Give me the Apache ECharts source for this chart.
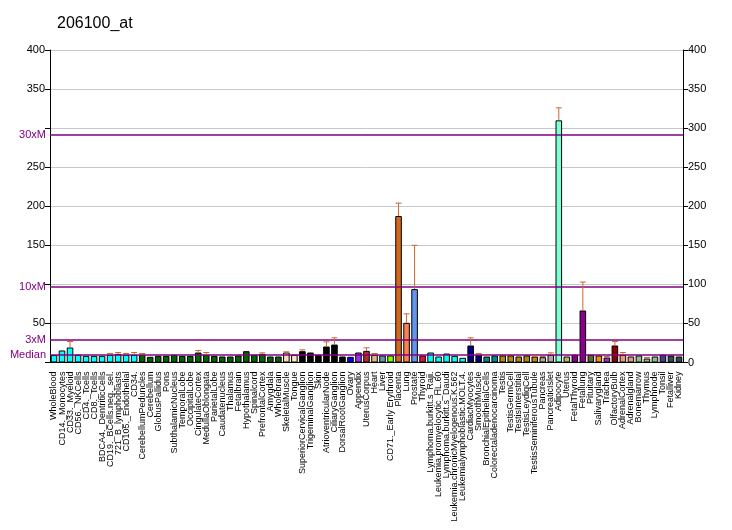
<!DOCTYPE html>
<html><head><meta charset="utf-8">
<script src="https://cdn.jsdelivr.net/npm/echarts@6/dist/echarts.min.js"></script>
<style>html,body{margin:0;padding:0;background:#fff}#c{width:732px;height:530px}</style>
</head><body><div id="c"></div>
<script>
var title = "206100_at";
var categories = ["WholeBlood","CD14._Monocytes","CD33._Myeloid","CD56._NKCells","CD4._Tcells","CD8._Tcells","BDCA4._DentriticCells","CD19._BCells.neg._sel.","721_B_lymphoblasts","CD105._Endothelial","CD34.","CerebellumPeduncles","Cerebellum","GlobusPallidus","Pons","SubthalamicNucleus","TemporalLobe","OccipitalLobe","CingulateCortex","MedullaOblongata","ParietalLobe","Caudatenucleus","Thalamus","Fetalbrain","Hypothalamus","Spinalcord","PrefrontalCortex","Amygdala","Wholebrain","SkeletalMuscle","Tongue","SuperiorCervicalGanglion","TrigeminalGanglion","Skin","AtrioventricularNode","CiliaryGanglion","DorsalRootGanglion","Ovary","Appendix","UterusCorpus","Heart","Liver","CD71._Early Erythroid","Placenta","Lung","Prostate","Thyroid","Lymphoma.burkitt.s_Raji.","Leukemia.promyelocytic_HL.60","Lymphoma.burkitt.s_Daudi","Leukemia.chronicMyelogenous.K.562","Leukemialymphoblastic.MOLT.4.","CardiacMyocytes","SmoothMuscle","BronchialEpithelialCells","Colorectaladenocarcinoma","Testis","TestisGermCell","TestisInterstitial","TestisLeydigCell","TestisSeminiferousTubule","Pancreas","PancreaticIslet","Adipocyte","Uterus","FetalThyroid","Fetallung","Pituitary","Salivarygland","Trachea","OlfactoryBulb","AdrenalCortex","Adrenalgland","Bonemarrow","Thymus","Lymphnode","Tonsil","Fetalliver","Kidney"];
var values = [9.5,15.4,19.2,9.8,8.5,8.5,8.5,9.8,11,9.8,9.8,9.8,7.3,8.5,8.5,9.8,8.5,8.5,12.8,9.8,8.5,7.7,7.7,9,14.5,9.8,11,7.7,7.7,12.8,9.8,14.5,12.8,9.8,20.5,23,7.7,7.3,12.8,14.9,9.8,9,9,187.5,50.8,94,9,12.8,7.7,11.5,8.5,6,21.8,9.8,7.7,9,9,9,7.7,9,7.7,6.8,9.8,310,7.7,9.8,66.6,9.8,9,6.4,21.8,9.8,7.7,9,5.1,7.7,9.8,9,7.7];
var errorTops = [null,null,26.9,null,null,null,null,11.5,12.8,11.5,12.8,11.5,null,null,null,null,null,null,15.4,12.8,null,null,null,null,null,null,12.4,null,null,13.7,null,16.2,null,null,26.5,31.6,null,null,null,18.8,11.5,null,null,204,62.3,150,null,null,null,null,null,null,31.6,11.5,8.5,null,null,null,null,null,8.5,7.7,12.4,326,null,null,103,null,null,7.7,26.9,12.8,null,null,6.4,null,null,null,null];
var barColors = ["#00FFFF","#00FFFF","#00FFFF","#00FFFF","#00FFFF","#00FFFF","#00FFFF","#00FFFF","#00FFFF","#00FFFF","#00FFFF",
"#006400","#006400","#006400","#006400","#006400","#006400","#006400","#006400","#006400","#006400","#006400","#006400","#006400","#006400","#006400","#006400","#006400","#006400",
"#FFDAB9","#FFE4C4","#000000","#000000","#000000","#000000","#000000","#000000","#0000FF","#9933EE","#B22D2D","#DEB887","#5F9EA0","#7FFF00","#D2691E","#FF7F50","#6495ED","#DC143C",
"#00FFFF","#00FFFF","#00FFFF","#00FFFF","#00FFFF","#000080","#000080","#008B8B","#008B8B","#B8860B","#B8860B","#B8860B","#B8860B","#B8860B","#A9A9A9","#A9A9A9","#7FFFD4","#BDB76B","#8B008B","#8B008B","#556B2F","#FF8C00","#9932CC","#8B0000","#E9967A","#E9967A","#8FBC8F","#8FBC8F","#8FBC8F","#483D8B","#2F4F4F","#2F4F4F"];
var median = 9.7;
var refLines = [{name:"Median", mult:1},{name:"3xM", mult:3},{name:"10xM", mult:10},{name:"30xM", mult:30}];
var hiddenLeft = [0,100,300];

var chart = echarts.init(document.getElementById('c'));
var font = 'Liberation Sans, Arial, sans-serif';
chart.setOption({
  animation:false,
  title:{text:title,left:52,top:11,textStyle:{fontFamily:font,fontSize:16,fontWeight:'normal',color:'#000'}},
  grid:{left:50,right:49,top:50,bottom:167.5,containLabel:false,outerBoundsMode:'none'},
  xAxis:{type:'category',data:categories,
    axisLine:{lineStyle:{color:'#000'}},
    axisTick:{lineStyle:{color:'#000'},length:5},
    axisLabel:{rotate:90,interval:0,fontFamily:font,fontSize:9,color:'#000',margin:9,hideOverlap:false}},
  yAxis:[
    {type:'value',min:0,max:400,interval:50,position:'left',
     axisLine:{show:true,lineStyle:{color:'#000'}},axisTick:{show:true,lineStyle:{color:'#000'},length:5},
     splitLine:{lineStyle:{color:'#C8C8C8'}},
     axisLabel:{fontFamily:font,fontSize:11,color:'#000',margin:5,formatter:function(v){return hiddenLeft.indexOf(v)>=0?'':String(v);}}},
    {type:'value',min:0,max:400,interval:50,position:'right',
     axisLine:{show:true,lineStyle:{color:'#000'}},axisTick:{show:true,lineStyle:{color:'#000'},length:5},
     splitLine:{show:false},
     axisLabel:{fontFamily:font,fontSize:11,color:'#000',margin:5}}
  ],
  series:[
    {type:'bar',data:values.map(function(v,i){return {value:v,itemStyle:{color:barColors[i]}};}),
     barCategoryGap:'18%',itemStyle:{borderColor:'#000',borderWidth:1},
     markLine:{symbol:'none',silent:true,
       lineStyle:{color:'#800080',type:'solid',width:1.5},
       label:{position:'start',fontFamily:font,fontSize:11,color:'#800080',distance:4,formatter:function(p){return p.name;}},
       data:refLines.map(function(r){return {name:r.name,yAxis:median*r.mult};})}},
    {type:'custom',z:5,
     data:errorTops.map(function(e,i){return [i,values[i],e];}),
     renderItem:function(params,api){
       var e = api.value(2);
       if(e===null||e===undefined||isNaN(e)) return null;
       var p0 = api.coord([api.value(0),api.value(1)]);
       var p1 = api.coord([api.value(0),e]);
       var st = {stroke:'#CC6633',lineWidth:1};
       return {type:'group',children:[
         {type:'line',shape:{x1:p0[0],y1:p0[1],x2:p1[0],y2:p1[1]},style:st},
         {type:'line',shape:{x1:p1[0]-3,y1:p1[1],x2:p1[0]+3,y2:p1[1]},style:st}
       ]};
     }}
  ]
});
</script></body></html>
